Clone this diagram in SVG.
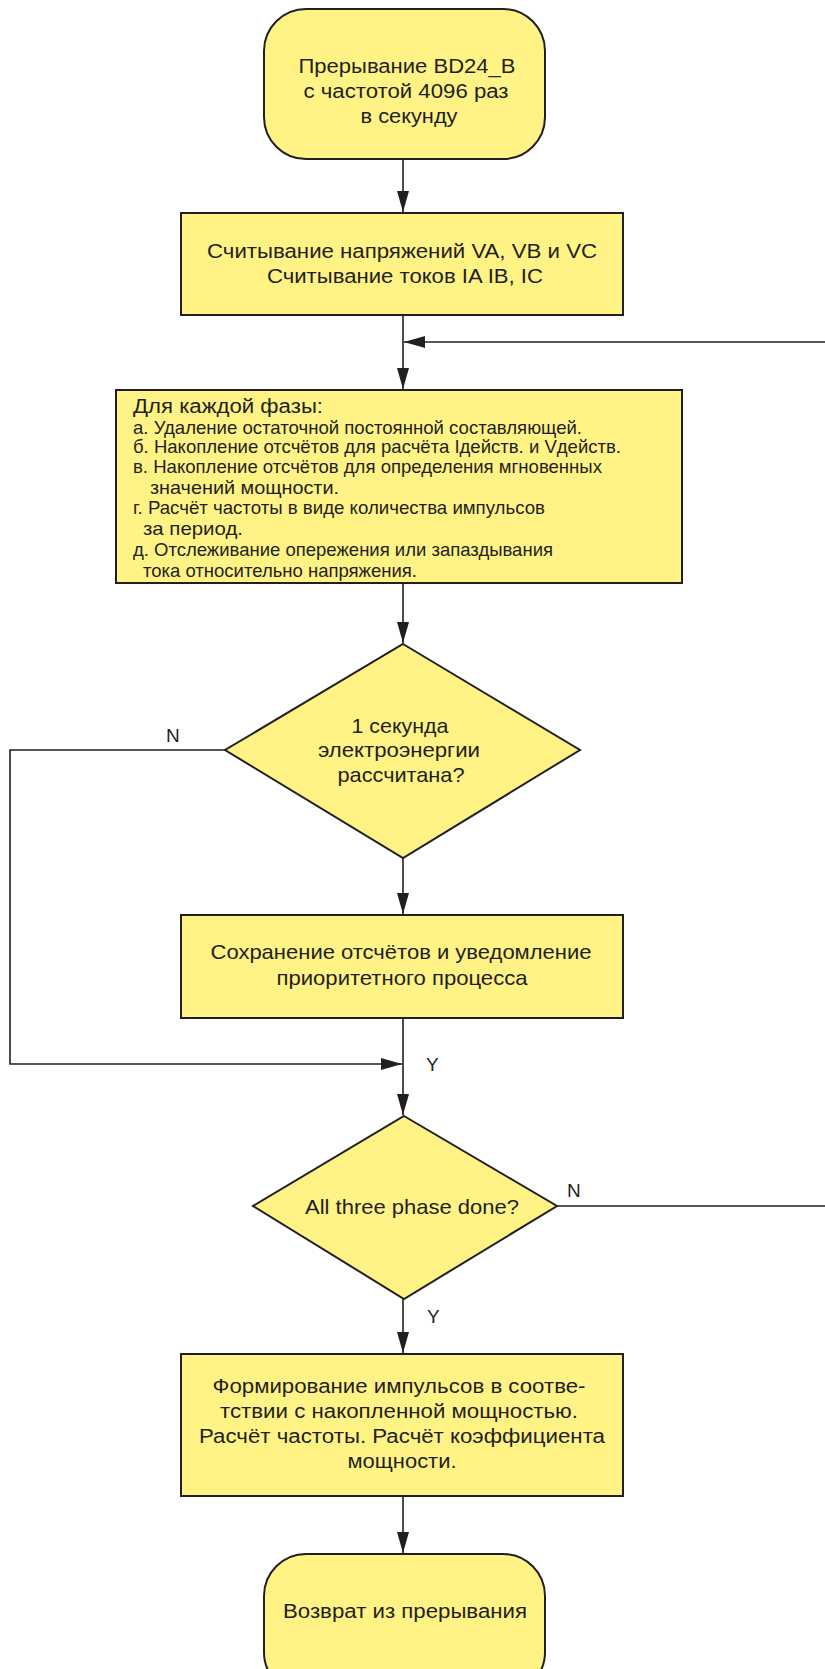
<svg xmlns="http://www.w3.org/2000/svg" width="825" height="1669" viewBox="0 0 825 1669">
<style>
.shape{fill:#fff386;stroke:#231f20;stroke-width:2}
.t{font-family:"Liberation Sans",Arial,sans-serif;fill:#231f20;font-size:20px}
.d{font-size:21px}
.n{font-family:"Liberation Sans",Arial,sans-serif;fill:#231f20;font-size:18.5px}
.c{text-anchor:middle}
.ln{fill:none;stroke:#231f20;stroke-width:1.6}
.lbl{font-family:"Liberation Sans",Arial,sans-serif;fill:#231f20;font-size:19px}
</style>
<defs>
<marker id="ah" markerUnits="userSpaceOnUse" markerWidth="22" markerHeight="12" refX="21" refY="6" orient="auto">
<path d="M0,0 L21,6 L0,12 z" fill="#231f20"/>
</marker>
</defs>
<rect width="825" height="1669" fill="#ffffff"/>
<g id="connectors">
<line class="ln" x1="403" y1="159" x2="403" y2="212" marker-end="url(#ah)"/>
<line class="ln" x1="403" y1="315" x2="403" y2="389" marker-end="url(#ah)"/>
<line class="ln" x1="825" y1="342" x2="404" y2="342" marker-end="url(#ah)"/>
<line class="ln" x1="403" y1="583" x2="403" y2="643" marker-end="url(#ah)"/>
<polyline class="ln" points="225,750 10,750 10,1064 402,1064" marker-end="url(#ah)"/>
<line class="ln" x1="403" y1="858" x2="403" y2="914" marker-end="url(#ah)"/>
<line class="ln" x1="403" y1="1018" x2="403" y2="1115" marker-end="url(#ah)"/>
<line class="ln" x1="557" y1="1206" x2="825" y2="1206"/>
<line class="ln" x1="403" y1="1299" x2="403" y2="1353" marker-end="url(#ah)"/>
<line class="ln" x1="403" y1="1496" x2="403" y2="1553" marker-end="url(#ah)"/>
<text class="lbl" x="166" y="742">N</text>
<text class="lbl" x="426" y="1071">Y</text>
<text class="lbl" x="567" y="1197">N</text>
<text class="lbl" x="427" y="1323">Y</text>
</g>
<g id="start">
<rect class="shape" x="264" y="9" width="281" height="150" rx="42" ry="42"/>
<text class="t c" x="407" y="73" textLength="217" lengthAdjust="spacingAndGlyphs">Прерывание BD24_B</text>
<text class="t c" x="406" y="98" textLength="205" lengthAdjust="spacingAndGlyphs">с частотой 4096 раз</text>
<text class="t c" x="409" y="123" textLength="97" lengthAdjust="spacingAndGlyphs">в секунду</text>
</g>
<g id="read">
<rect class="shape" x="181" y="213" width="442" height="102"/>
<text class="t c" x="402" y="258" textLength="390" lengthAdjust="spacingAndGlyphs">Считывание напряжений VA, VB и VC</text>
<text class="t c" x="405" y="283" textLength="276" lengthAdjust="spacingAndGlyphs">Считывание токов IA IB, IC</text>
</g>
<g id="perphase">
<rect class="shape" x="116" y="390" width="566" height="193"/>
<text class="t" x="133" y="413" textLength="190" lengthAdjust="spacingAndGlyphs">Для каждой фазы:</text>
<text class="n" x="133" y="434" textLength="449" lengthAdjust="spacingAndGlyphs">а. Удаление остаточной постоянной составляющей.</text>
<text class="n" x="133" y="453" textLength="488" lengthAdjust="spacingAndGlyphs">б. Накопление отсчётов для расчёта Iдейств. и Vдейств.</text>
<text class="n" x="133" y="473" textLength="469" lengthAdjust="spacingAndGlyphs">в. Накопление отсчётов для определения мгновенных</text>
<text class="n" x="150" y="494" textLength="189" lengthAdjust="spacingAndGlyphs">значений мощности.</text>
<text class="n" x="133" y="514" textLength="412" lengthAdjust="spacingAndGlyphs">г. Расчёт частоты в виде количества импульсов</text>
<text class="n" x="143" y="535" textLength="100" lengthAdjust="spacingAndGlyphs">за период.</text>
<text class="n" x="133" y="556" textLength="420" lengthAdjust="spacingAndGlyphs">д. Отслеживание опережения или запаздывания</text>
<text class="n" x="143" y="577" textLength="274" lengthAdjust="spacingAndGlyphs">тока относительно напряжения.</text>
</g>
<g id="decision1">
<polygon class="shape" points="403,644 580,750 403,858 225,750"/>
<text class="t d c" x="400" y="733" textLength="97" lengthAdjust="spacingAndGlyphs">1 секунда</text>
<text class="t d c" x="399" y="757" textLength="162" lengthAdjust="spacingAndGlyphs">электроэнергии</text>
<text class="t d c" x="401" y="782" textLength="127" lengthAdjust="spacingAndGlyphs">рассчитана?</text>
</g>
<g id="save">
<rect class="shape" x="181" y="915" width="442" height="103"/>
<text class="t d c" x="401" y="959" textLength="381" lengthAdjust="spacingAndGlyphs">Сохранение отсчётов и уведомление</text>
<text class="t d c" x="402" y="985" textLength="251" lengthAdjust="spacingAndGlyphs">приоритетного процесса</text>
</g>
<g id="decision2">
<polygon class="shape" points="404,1116 557,1206 404,1299 253,1206"/>
<text class="t d c" x="412" y="1214" textLength="214" lengthAdjust="spacingAndGlyphs">All three phase done?</text>
</g>
<g id="pulses">
<rect class="shape" x="181" y="1354" width="442" height="142"/>
<text class="t c" x="399" y="1393" textLength="373" lengthAdjust="spacingAndGlyphs">Формирование импульсов в соотве-</text>
<text class="t c" x="399" y="1418" textLength="358" lengthAdjust="spacingAndGlyphs">тствии с накопленной мощностью.</text>
<text class="t c" x="402" y="1443" textLength="406" lengthAdjust="spacingAndGlyphs">Расчёт частоты. Расчёт коэффициента</text>
<text class="t c" x="402" y="1468" textLength="109" lengthAdjust="spacingAndGlyphs">мощности.</text>
</g>
<g id="end">
<rect class="shape" x="264" y="1554" width="281" height="140" rx="42" ry="42"/>
<text class="t c" x="405" y="1618" textLength="244" lengthAdjust="spacingAndGlyphs">Возврат из прерывания</text>
</g>
</svg>
